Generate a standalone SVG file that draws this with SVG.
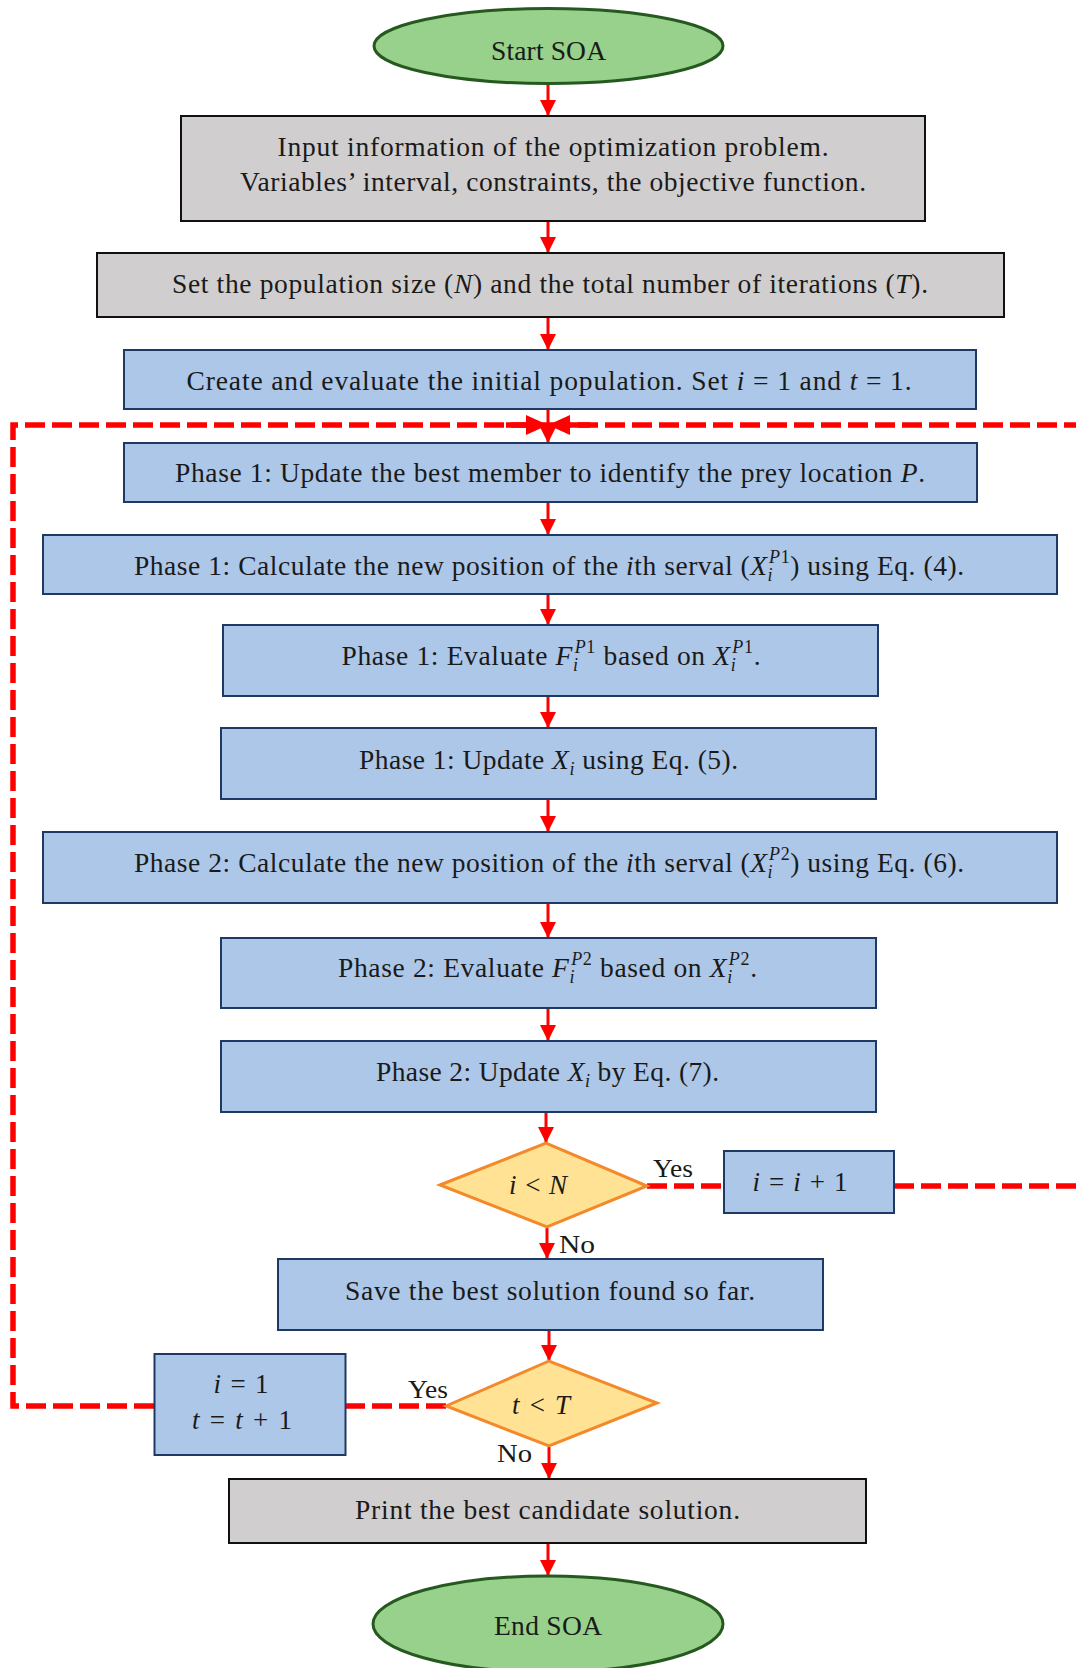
<svg xmlns="http://www.w3.org/2000/svg" width="1076" height="1668" viewBox="0 0 1076 1668">
<style>
.bg{fill:#ffffff}
.gray{fill:#D0CECE;stroke:#111111;stroke-width:2}
.blue{fill:#ADC7E8;stroke:#1F3864;stroke-width:2}
.oval{fill:#97D18B;stroke:#25591F;stroke-width:3}
.dia{fill:#FFE293;stroke:#F4892B;stroke-width:3}
.t{font-family:"Liberation Serif","Times New Roman",serif;font-size:27.5px;fill:#1a1a1a;text-anchor:middle}
.lab{font-family:"Liberation Serif","Times New Roman",serif;font-size:25px;fill:#1a1a1a}
.m{font-family:"Liberation Serif","Times New Roman",serif;font-size:27px;fill:#1a1a1a;text-anchor:middle}
.it{font-style:italic}
.sb{font-size:18px;font-style:italic}
.sp{font-size:18px;font-style:italic}
.sn{font-size:18px}
.arr{stroke:#FF0000;stroke-width:3;fill:none;marker-end:url(#ah)}
.dash{stroke:#FF0000;stroke-width:5.5;fill:none;stroke-dasharray:20 7}
</style>
<defs>
<marker id="ah" markerUnits="userSpaceOnUse" viewBox="0 0 16 16" refX="16" refY="8" markerWidth="16" markerHeight="16" orient="auto">
<path d="M0,0 L16,8 L0,16 Z" fill="#FF0000"/>
</marker>
<marker id="ahb" markerUnits="userSpaceOnUse" viewBox="0 0 22 20" refX="22" refY="10" markerWidth="22" markerHeight="20" orient="auto">
<path d="M0,0 L22,10 L0,20 Z" fill="#FF0000"/>
</marker>
</defs>
<rect class="bg" x="0" y="0" width="1076" height="1668"/>

<g id="connectors">
<line class="arr" x1="548" y1="84" x2="548" y2="116"/>
<line class="arr" x1="548" y1="222" x2="548" y2="253"/>
<line class="arr" x1="548" y1="318" x2="548" y2="350"/>
<line class="arr" x1="548" y1="410" x2="548" y2="443"/>
<line class="arr" x1="548" y1="503" x2="548" y2="535"/>
<line class="arr" x1="548" y1="595" x2="548" y2="625"/>
<line class="arr" x1="548" y1="697" x2="548" y2="728"/>
<line class="arr" x1="548" y1="800" x2="548" y2="832"/>
<line class="arr" x1="548" y1="904" x2="548" y2="938"/>
<line class="arr" x1="548" y1="1009" x2="548" y2="1041"/>
<line class="arr" x1="546" y1="1113" x2="546" y2="1143"/>
<line class="arr" x1="547" y1="1228" x2="547" y2="1259"/>
<line class="arr" x1="549" y1="1331" x2="549" y2="1361"/>
<line class="arr" x1="549" y1="1447" x2="549" y2="1479"/>
<line class="arr" x1="548" y1="1544" x2="548" y2="1576"/>
<path class="dash" d="M647,1186 H724"/>
<path class="dash" d="M894,1186 H1081 V425 H570"/>
<path d="M590,425 H548" stroke="#FF0000" stroke-width="5.5" fill="none" marker-end="url(#ahb)"/>
<path class="dash" d="M446,1406 H346"/>
<path class="dash" d="M154,1406 H13 V425 H526"/>
<path d="M506,425 H548" stroke="#FF0000" stroke-width="5.5" fill="none" marker-end="url(#ahb)"/>
<text class="lab" x="653" y="1177" textLength="40" lengthAdjust="spacingAndGlyphs">Yes</text>
<text class="lab" x="559" y="1253" textLength="36" lengthAdjust="spacingAndGlyphs">No</text>
<text class="lab" x="408" y="1398" textLength="40" lengthAdjust="spacingAndGlyphs">Yes</text>
<text class="lab" x="497" y="1462" textLength="35" lengthAdjust="spacingAndGlyphs">No</text>
</g>

<g id="start">
<ellipse class="oval" cx="548.5" cy="46" rx="174.5" ry="37.5"/>
<text class="t" x="548.5" y="60" textLength="115" lengthAdjust="spacing">Start SOA</text>
</g>

<g id="input">
<rect class="gray" x="181" y="116" width="744" height="105"/>
<text class="t" x="553" y="156" textLength="551" lengthAdjust="spacing">Input information of the optimization problem.</text>
<text class="t" x="553" y="191" textLength="626" lengthAdjust="spacing">Variables’ interval, constraints, the objective function.</text>
</g>

<g id="setparams">
<rect class="gray" x="97" y="253" width="907" height="64"/>
<text class="t" x="550" y="293" textLength="756" lengthAdjust="spacing">Set the population size (<tspan class="it">N</tspan>) and the total number of iterations (<tspan class="it">T</tspan>).</text>
</g>

<g id="init">
<rect class="blue" x="124" y="350" width="852" height="59"/>
<text class="t" x="549" y="390" textLength="725" lengthAdjust="spacing">Create and evaluate the initial population. Set <tspan class="it">i</tspan> = 1 and <tspan class="it">t</tspan> = 1.</text>
</g>

<g id="p1best">
<rect class="blue" x="124" y="443" width="853" height="59"/>
<text class="t" x="550" y="482" textLength="750" lengthAdjust="spacing">Phase 1: Update the best member to identify the prey location <tspan class="it">P</tspan>.</text>
</g>

<g id="p1calc">
<rect class="blue" x="43" y="535" width="1014" height="59"/>
<text class="t" x="549" y="575" textLength="830" lengthAdjust="spacing">Phase 1: Calculate the new position of the <tspan class="it">i</tspan>th serval (<tspan class="it">X</tspan><tspan class="sb" dy="6">i</tspan><tspan class="sp" dx="-4" dy="-18">P</tspan><tspan class="sn">1</tspan><tspan dy="12">) using Eq. (4).</tspan></text>
</g>

<g id="p1eval">
<rect class="blue" x="223" y="625" width="655" height="71"/>
<text class="t" x="551" y="665" textLength="419" lengthAdjust="spacing">Phase 1: Evaluate <tspan class="it">F</tspan><tspan class="sb" dy="6">i</tspan><tspan class="sp" dx="-4" dy="-18">P</tspan><tspan class="sn">1</tspan><tspan dy="12"> based on </tspan><tspan class="it">X</tspan><tspan class="sb" dy="6">i</tspan><tspan class="sp" dx="-4" dy="-18">P</tspan><tspan class="sn">1</tspan><tspan dy="12">.</tspan></text>
</g>

<g id="p1update">
<rect class="blue" x="221" y="728" width="655" height="71"/>
<text class="t" x="548.5" y="769" textLength="379" lengthAdjust="spacing">Phase 1: Update <tspan class="it">X</tspan><tspan class="sb" dy="6">i</tspan><tspan dy="-6"> using Eq. (5).</tspan></text>
</g>

<g id="p2calc">
<rect class="blue" x="43" y="832" width="1014" height="71"/>
<text class="t" x="549" y="872" textLength="830" lengthAdjust="spacing">Phase 2: Calculate the new position of the <tspan class="it">i</tspan>th serval (<tspan class="it">X</tspan><tspan class="sb" dy="6">i</tspan><tspan class="sp" dx="-4" dy="-18">P</tspan><tspan class="sn">2</tspan><tspan dy="12">) using Eq. (6).</tspan></text>
</g>

<g id="p2eval">
<rect class="blue" x="221" y="938" width="655" height="70"/>
<text class="t" x="547.5" y="976.5" textLength="419" lengthAdjust="spacing">Phase 2: Evaluate <tspan class="it">F</tspan><tspan class="sb" dy="6">i</tspan><tspan class="sp" dx="-4" dy="-18">P</tspan><tspan class="sn">2</tspan><tspan dy="12"> based on </tspan><tspan class="it">X</tspan><tspan class="sb" dy="6">i</tspan><tspan class="sp" dx="-4" dy="-18">P</tspan><tspan class="sn">2</tspan><tspan dy="12">.</tspan></text>
</g>

<g id="p2update">
<rect class="blue" x="221" y="1041" width="655" height="71"/>
<text class="t" x="547.5" y="1081" textLength="343" lengthAdjust="spacing">Phase 2: Update <tspan class="it">X</tspan><tspan class="sb" dy="6">i</tspan><tspan dy="-6"> by Eq. (7).</tspan></text>
</g>

<g id="checkN">
<polygon class="dia" points="440,1185 546,1143 647,1186 547,1227"/>
<text class="m" x="538" y="1194" textLength="58" lengthAdjust="spacing"><tspan class="it">i</tspan> &lt; <tspan class="it">N</tspan></text>
</g>

<g id="incI">
<rect class="blue" x="724" y="1151" width="170" height="62"/>
<text class="m" x="800" y="1191" textLength="95" lengthAdjust="spacing"><tspan class="it">i</tspan> = <tspan class="it">i</tspan> + 1</text>
</g>

<g id="save">
<rect class="blue" x="278" y="1259" width="545" height="71"/>
<text class="t" x="550" y="1300" textLength="410" lengthAdjust="spacing">Save the best solution found so far.</text>
</g>

<g id="checkT">
<polygon class="dia" points="446,1406 549,1361 657,1403 549,1446"/>
<text class="m" x="541" y="1414" textLength="58" lengthAdjust="spacing"><tspan class="it">t</tspan> &lt; <tspan class="it">T</tspan></text>
</g>

<g id="resetI">
<rect class="blue" x="154.5" y="1354" width="191" height="101"/>
<text class="m" x="241" y="1393" textLength="55" lengthAdjust="spacing"><tspan class="it">i</tspan> = 1</text>
<text class="m" x="242" y="1429" textLength="100" lengthAdjust="spacing"><tspan class="it">t</tspan> = <tspan class="it">t</tspan> + 1</text>
</g>

<g id="print">
<rect class="gray" x="229" y="1479" width="637" height="64"/>
<text class="t" x="547.5" y="1519" textLength="385" lengthAdjust="spacing">Print the best candidate solution.</text>
</g>

<g id="end">
<ellipse class="oval" cx="548" cy="1624" rx="175" ry="48"/>
<text class="t" x="548" y="1635" textLength="108" lengthAdjust="spacing">End SOA</text>
</g>
</svg>
